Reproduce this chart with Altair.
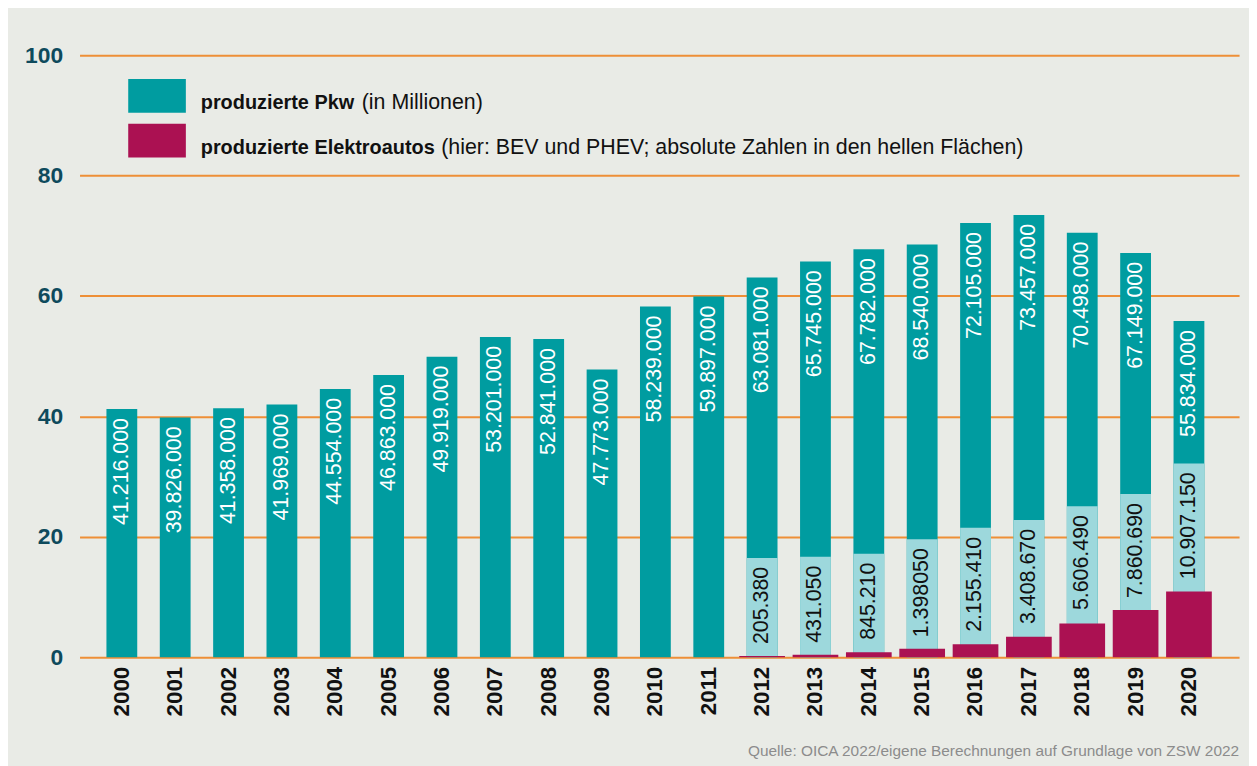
import altair as alt
import pandas as pd

# ---------------- data ----------------
years = [str(y) for y in range(2000, 2021)]
pkw_mio = [41.216, 39.826, 41.358, 41.969, 44.554, 46.863, 49.919, 53.201, 52.841, 47.773,
           58.239, 59.897, 63.081, 65.745, 67.782, 68.540, 72.105, 73.457, 70.498, 67.149, 55.834]
pkw_labels = ["41.216.000", "39.826.000", "41.358.000", "41.969.000", "44.554.000", "46.863.000",
              "49.919.000", "53.201.000", "52.841.000", "47.773.000", "58.239.000", "59.897.000",
              "63.081.000", "65.745.000", "67.782.000", "68.540.000", "72.105.000", "73.457.000",
              "70.498.000", "67.149.000", "55.834.000"]

ev_years = [str(y) for y in range(2012, 2021)]
ev_mio = [0.20538, 0.43105, 0.84521, 1.39805, 2.15541, 3.40867, 5.60649, 7.86069, 10.90715]
ev_labels = ["205.380", "431.050", "845.210", "1.398050", "2.155.410", "3.408.670",
             "5.606.490", "7.860.690", "10.907.150"]
# upper edge of the light label areas (in millions)
ev_area_top = [16.5, 16.7, 17.2, 19.6, 21.5, 22.8, 25.1, 27.1, 32.2]

y_ticks = [0, 20, 40, 60, 80, 100]

# ---------------- style ----------------
FONT = "Liberation Sans, Arial, Helvetica, sans-serif"
TEAL = "#009CA0"
LIGHT = "#9DD8DC"
MAGENTA = "#AB1152"
ORANGE = "#EE8F37"
BG = "#E9EBE6"
YLAB = "#0E4A5C"

pkw_df = pd.DataFrame({"year": years, "pkw": pkw_mio, "label": pkw_labels})
ev_df = pd.DataFrame({"year": ev_years, "ev": ev_mio, "label": ev_labels, "area": ev_area_top})

xscale = alt.Scale(domain=years, paddingInner=0, paddingOuter=0.366, align=0.4)
x_enc = alt.X("year:O", scale=xscale,
              axis=alt.Axis(title=None, labelAngle=-90, labelFont=FONT, labelFontSize=22.5,
                            labelFontWeight="bold", labelColor="#111111", labelPadding=9,
                            ticks=False, domain=False, grid=False))
yscale = alt.Scale(domain=[0, 100], nice=False)
y_axis = alt.Axis(title=None, values=y_ticks, grid=True, gridColor=ORANGE, gridWidth=2,
                  domain=False, ticks=False, labelFont=FONT, labelFontSize=23,
                  labelFontWeight="bold", labelColor=YLAB, labelPadding=17)

bars = alt.Chart(pkw_df).mark_bar(size=31, color=TEAL).encode(
    x=x_enc,
    y=alt.Y("pkw:Q", scale=yscale, axis=y_axis),
)

areas = alt.Chart(ev_df).mark_bar(size=31, color=LIGHT).encode(
    x=alt.X("year:O", scale=xscale),
    y=alt.Y("area:Q", scale=yscale),
)

ev_bars = alt.Chart(ev_df).mark_bar(size=46, color=MAGENTA).encode(
    x=alt.X("year:O", scale=xscale),
    y=alt.Y("ev:Q", scale=yscale),
)

pkw_text = alt.Chart(pkw_df).mark_text(
    angle=270, align="right", baseline="middle", dx=-9, font=FONT, fontSize=21.5,
    color="white"
).encode(
    x=alt.X("year:O", scale=xscale),
    y=alt.Y("pkw:Q", scale=yscale),
    text="label:N",
)

ev_text = alt.Chart(ev_df).mark_text(
    angle=270, align="right", baseline="middle", dx=-9, font=FONT, fontSize=21.5,
    color="#111111"
).encode(
    x=alt.X("year:O", scale=xscale),
    y=alt.Y("area:Q", scale=yscale),
    text="label:N",
)

one = pd.DataFrame({"a": [0]})

sw1 = alt.Chart(one).mark_rect(color=TEAL).encode(
    x=alt.value(49), x2=alt.value(107), y=alt.value(24), y2=alt.value(58))
sw2 = alt.Chart(one).mark_rect(color=MAGENTA).encode(
    x=alt.value(49), x2=alt.value(107), y=alt.value(69), y2=alt.value(103))

def txt(s, x, y, weight="normal", size=21.5, color="#111111", align="left"):
    return alt.Chart(one).mark_text(
        text=s, align=align, baseline="alphabetic", font=FONT, fontSize=size,
        fontWeight=weight, color=color
    ).encode(x=alt.value(x), y=alt.value(y))

leg = [
    txt("produzierte Pkw", 122, 54, "bold", size=20),
    txt("(in Millionen)", 284, 54),
    txt("produzierte Elektroautos", 122, 99, "bold", size=20),
    txt("(hier: BEV und PHEV; absolute Zahlen in den hellen Flächen)", 364, 99),
    txt("Quelle: OICA 2022/eigene Berechnungen auf Grundlage von ZSW 2022", 1167, 705,
        size=15.5, color="#8C8C8C", align="right"),
]

chart = alt.layer(bars, areas, ev_bars, pkw_text, ev_text, sw1, sw2, *leg).properties(
    width=1167, height=606,
    padding={"left": 72, "top": 45, "right": 10, "bottom": 107},
    autosize=alt.AutoSizeParams(type="none"),
    background=BG,
).configure_view(stroke=None)

chart.save("out.html", embed_options={"renderer": "svg", "actions": False})
